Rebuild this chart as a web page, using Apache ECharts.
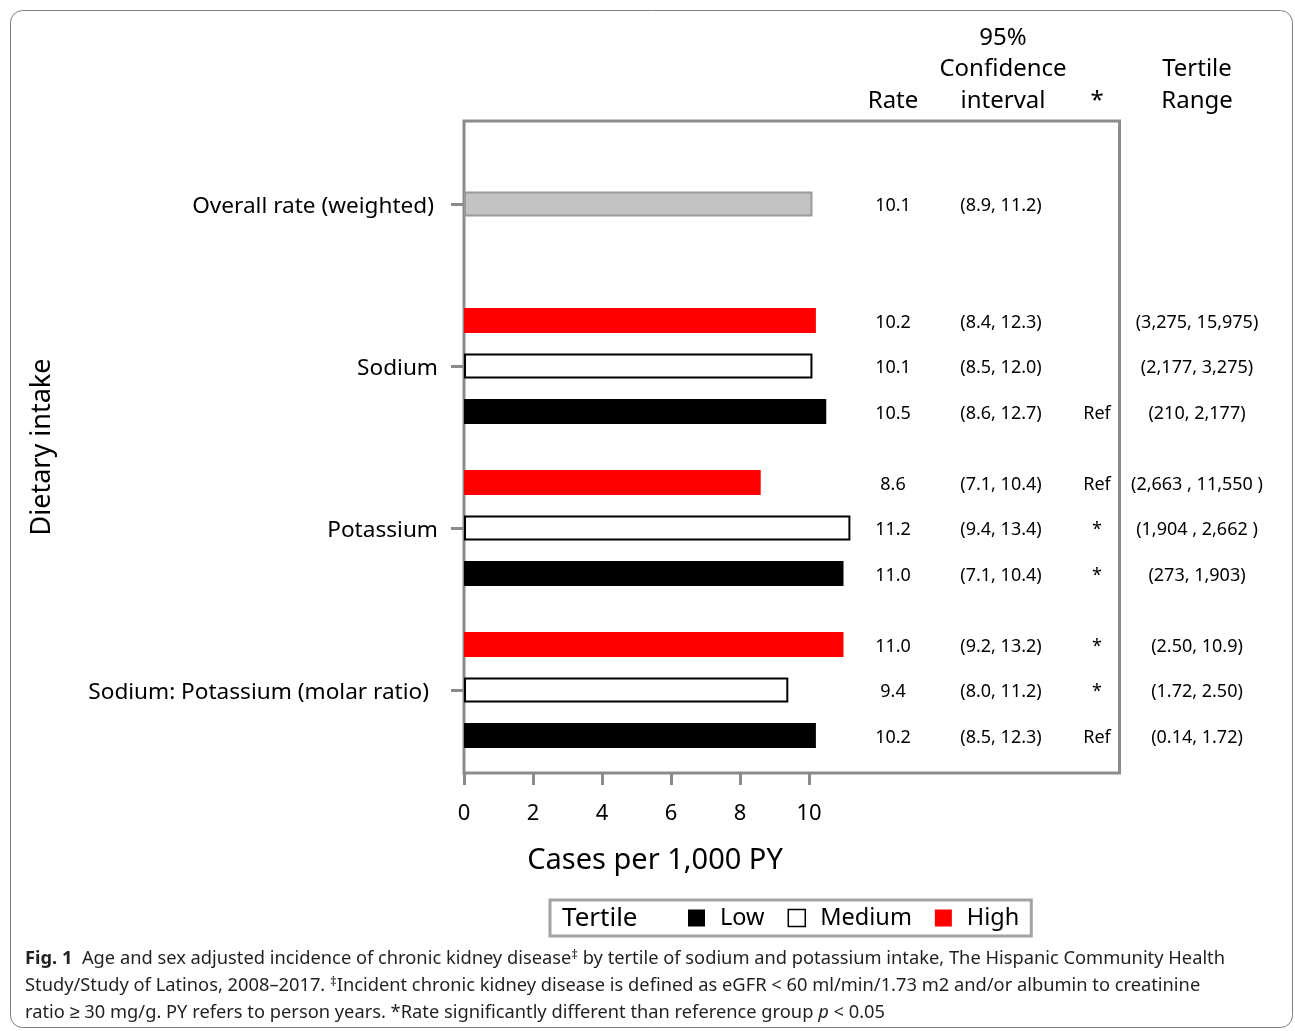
<!DOCTYPE html>
<html>
<head>
<meta charset="utf-8">
<title>Fig. 1</title>
<script src="https://cdn.jsdelivr.net/npm/echarts@6.0.0/dist/echarts.min.js"></script>
<style>
html,body{margin:0;padding:0;background:#fff;}
#main{width:1295px;height:1031px;}
</style>
</head>
<body>
<div id="main"></div>
<script>
var groupNames = ['Overall rate (weighted)', 'Sodium', 'Potassium', 'Sodium: Potassium (molar ratio)'];
var tertiles = ['High', 'Medium', 'Low'];
var legendOrder = ['Low', 'Medium', 'High'];
var xTicks = [0, 2, 4, 6, 8, 10];

var overallRate = [10.1];
var overallCI = ['(8.9, 11.2)'];
var overallSig = [' '];
var overallRange = [' '];

var sodiumRate = [10.2, 10.1, 10.5];
var sodiumCI = ['(8.4, 12.3)', '(8.5, 12.0)', '(8.6, 12.7)'];
var sodiumSig = [' ', ' ', 'Ref'];
var sodiumRange = ['(3,275, 15,975)', '(2,177, 3,275)', '(210, 2,177)'];

var potassiumRate = [8.6, 11.2, 11.0];
var potassiumCI = ['(7.1, 10.4)', '(9.4, 13.4)', '(7.1, 10.4)'];
var potassiumSig = ['Ref', '*', '*'];
var potassiumRange = ['(2,663 , 11,550 )', '(1,904 , 2,662 )', '(273, 1,903)'];

var ratioRate = [11.0, 9.4, 10.2];
var ratioCI = ['(9.2, 13.2)', '(8.0, 11.2)', '(8.5, 12.3)'];
var ratioSig = ['*', '*', 'Ref'];
var ratioRange = ['(2.50, 10.9)', '(1.72, 2.50)', '(0.14, 1.72)'];

var captionLines = [
	'{b|Fig. 1}  Age and sex adjusted incidence of chronic kidney disease{sup|‡} by tertile of sodium and potassium intake, The Hispanic Community Health',
	'Study/Study of Latinos, 2008–2017. {sup|‡}Incident chronic kidney disease is defined as eGFR < 60 ml/min/1.73 m2 and/or albumin to creatinine',
	'ratio ≥ 30 mg/g. PY refers to person years. *Rate significantly different than reference group {i|p} < 0.05'
];

// layout
var plotLeft = 464, plotTop = 121, plotWidth = 655.5, plotHeight = 652;
var xMax = 19;
var rowStep = 45.5;
var groupCenters = [204, 366, 528, 690];
var labelMargins = [30, 26, 26, 35];
var tableStart = 845;
var gray = '#898b8d';
var font = '"Noto Sans", "Open Sans", sans-serif';

var groups = [
	{name: groupNames[0], rate: overallRate, ci: overallCI, sig: overallSig, range: overallRange},
	{name: groupNames[1], rate: sodiumRate, ci: sodiumCI, sig: sodiumSig, range: sodiumRange},
	{name: groupNames[2], rate: potassiumRate, ci: potassiumCI, sig: potassiumSig, range: potassiumRange},
	{name: groupNames[3], rate: ratioRate, ci: ratioCI, sig: ratioSig, range: ratioRange}
];

var barStyle = {
	High: {color: '#ff0000', borderWidth: 0},
	Medium: {color: '#ffffff', borderColor: '#000000', borderWidth: 2},
	Low: {color: '#000000', borderWidth: 0},
	Overall: {color: '#c3c3c3', borderColor: '#9a9a9a', borderWidth: 2}
};

var grids = [], xAxes = [], yAxes = [], series = [];

// outer box with the x axis
grids.push({left: plotLeft, top: plotTop, width: plotWidth, height: plotHeight, show: true,
	borderColor: gray, borderWidth: 3, backgroundColor: 'transparent', outerBoundsMode: 'none'});
xAxes.push({type: 'value', gridIndex: 0, min: 0, max: xMax,
	axisLine: {show: false}, splitLine: {show: false},
	axisTick: {show: true, customValues: xTicks, length: 12, lineStyle: {color: gray, width: 3}},
	axisLabel: {show: true, customValues: xTicks, margin: 30, fontSize: 22, color: '#000', fontFamily: font}});
yAxes.push({type: 'value', gridIndex: 0, min: 0, max: 1,
	axisLine: {show: false}, axisTick: {show: false}, axisLabel: {show: false}, splitLine: {show: false},
	name: 'Dietary intake', nameLocation: 'middle', nameGap: 408,
	nameTextStyle: {fontSize: 27, color: '#000', fontFamily: font}});

function fmtRate(v){
	return v.toFixed(1);
}

for (var g = 0; g < groups.length; g++) {
	(function(g){
		var grp = groups[g];
		var n = grp.rate.length;
		var h = rowStep * n;
		var mid = Math.floor(n / 2);
		var rows = [];
		for (var i = 0; i < n; i++) rows.push(grp.name + ' ' + i);
		grids.push({left: plotLeft, top: groupCenters[g] - h / 2, width: plotWidth, height: h, outerBoundsMode: 'none'});
		var gi = grids.length - 1;
		xAxes.push({type: 'value', gridIndex: gi, min: 0, max: xMax, show: false});
		var yi = yAxes.length;
		// group label with its tick
		yAxes.push({type: 'category', gridIndex: gi, data: rows, inverse: true, position: 'left',
			axisLine: {show: false}, splitLine: {show: false},
			axisTick: {show: true, alignWithLabel: true, length: 13, lineStyle: {color: gray, width: 3},
				interval: function(idx){ return idx === mid; }},
			axisLabel: {interval: 0, margin: labelMargins[g], color: '#000',
				formatter: function(value, idx){ return idx === mid ? '{n|' + grp.name + '}' : ''; },
				rich: {n: {fontSize: 22.6, fontFamily: font, color: '#000', padding: [6, 0, 0, 0]}}}});
		// table columns
		yAxes.push({type: 'category', gridIndex: gi, data: rows, inverse: true, position: 'left',
			offset: -(tableStart - plotLeft),
			axisLine: {show: false}, axisTick: {show: false}, splitLine: {show: false},
			axisLabel: {interval: 0, margin: 0, align: 'left', color: '#000', fontSize: 18, fontFamily: font,
				padding: [4, 0, 0, 0],
				formatter: function(value, idx){
					return '{r|' + fmtRate(grp.rate[idx]) + '}{c|' + grp.ci[idx] + '}{s|' + grp.sig[idx] + '}{t|' + grp.range[idx] + '}';
				},
				rich: {
					r: {width: 96, align: 'center', fontSize: 18, fontFamily: font, color: '#000'},
					c: {width: 120, align: 'center', fontSize: 18, fontFamily: font, color: '#000'},
					s: {width: 72, align: 'center', fontSize: 18, fontFamily: font, color: '#000'},
					t: {width: 128, align: 'center', fontSize: 18, fontFamily: font, color: '#000'}
				}}});
		if (n === 1) {
			series.push({name: 'Overall', type: 'bar', xAxisIndex: gi, yAxisIndex: yi, barWidth: 25,
				itemStyle: barStyle.Overall, data: grp.rate});
		} else {
			for (var t = 0; t < tertiles.length; t++) {
				var d = [];
				for (var k = 0; k < n; k++) d.push(k === t ? grp.rate[k] : '-');
				series.push({name: tertiles[t], type: 'bar', xAxisIndex: gi, yAxisIndex: yi,
					barWidth: 25, barGap: '-100%', itemStyle: barStyle[tertiles[t]], data: d});
			}
		}
	})(g);
}

var graphics = [
	{type: 'rect', shape: {x: 10.5, y: 10.5, width: 1282, height: 1017, r: 12},
		style: {fill: 'transparent', stroke: '#7f7f7f', lineWidth: 1}},
	{type: 'text', x: 893, y: 101, style: {text: 'Rate', font: '24px ' + font, fill: '#000', align: 'center', verticalAlign: 'middle'}},
	{type: 'text', x: 1003, y: 69.5, style: {text: '95%\nConfidence\ninterval', font: '24px ' + font, lineHeight: 31.5, fill: '#000', align: 'center', verticalAlign: 'middle'}},
	{type: 'text', x: 1097, y: 101, style: {text: '*', font: '24px ' + font, fill: '#000', align: 'center', verticalAlign: 'middle'}},
	{type: 'text', x: 1197, y: 85, style: {text: 'Tertile\nRange', font: '24px ' + font, lineHeight: 31.5, fill: '#000', align: 'center', verticalAlign: 'middle'}},
	{type: 'text', x: 655, y: 861, style: {text: 'Cases per 1,000 PY', font: '29px ' + font, fill: '#000', align: 'center', verticalAlign: 'middle'}},
	{type: 'text', x: 562, y: 919, style: {text: 'Tertile', font: '26px ' + font, fill: '#000', align: 'left', verticalAlign: 'middle'}}
];

var capFont = '"Noto Sans", sans-serif';
for (var c = 0; c < captionLines.length; c++) {
	graphics.push({type: 'text', x: 25, y: 959 + c * 27, style: {
		text: captionLines[c], fontFamily: capFont, fontSize: 18.3, fill: '#231f20',
		align: 'left', verticalAlign: 'middle',
		rich: {
			b: {fontFamily: capFont, fontSize: 18.3, fontWeight: 'bold', fill: '#231f20'},
			sup: {fontFamily: capFont, fontSize: 13, fill: '#231f20', verticalAlign: 'top', padding: [0, 0, 8, 0]},
			i: {fontFamily: capFont, fontSize: 18.3, fontStyle: 'italic', fill: '#231f20'}
		}
	}});
}

var myChart = echarts.init(document.getElementById('main'), null, {renderer: 'canvas'});
myChart.setOption({
	animation: false,
	backgroundColor: '#fff',
	textStyle: {fontFamily: font},
	grid: grids,
	xAxis: xAxes,
	yAxis: yAxes,
	series: series,
	legend: {
		data: [{name: 'Low'}, {name: 'Medium', itemStyle: {color: '#fff', borderColor: '#000', borderWidth: 1.5}}, {name: 'High'}],
		left: 550, top: 900, orient: 'horizontal', icon: 'rect',
		itemWidth: 17, itemHeight: 17, itemGap: 23,
		padding: [6, 12, 6, 138],
		borderColor: '#a3a3a3', borderWidth: 3,
		selectedMode: false,
		textStyle: {fontSize: 23.5, color: '#000', fontFamily: font, padding: [0, 0, 0, 10]}
	},
	graphic: graphics
});
</script>
</body>
</html>
